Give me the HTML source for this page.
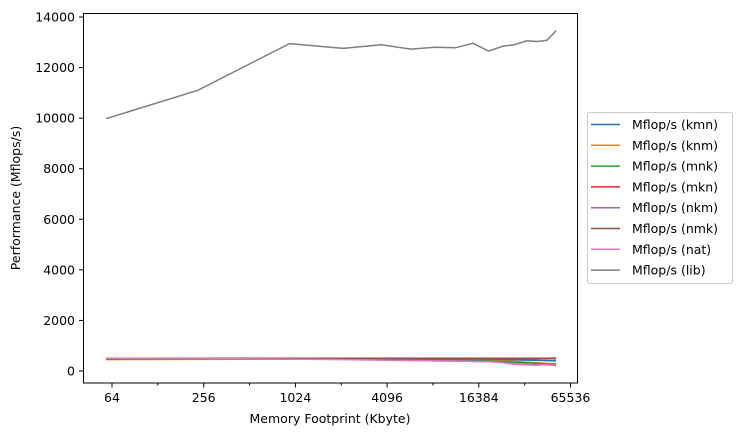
<!DOCTYPE html>
<html><head><meta charset="utf-8"><style>
body{margin:0;background:#fff;font-family:"Liberation Sans","DejaVu Sans",sans-serif}
svg text{font-family:"DejaVu Sans","Liberation Sans",sans-serif;font-size:12.5px;fill:#000}
</style></head><body>
<svg id="chart" width="741" height="436" xmlns="http://www.w3.org/2000/svg">
<rect x="0" y="0" width="741" height="436" fill="#fff"/>
<g id="plot"></g>
<rect x="83.5" y="13.5" width="494" height="369.5" fill="none" stroke="#000" stroke-width="1"/>
<g id="axes"></g>
<text x="330" y="423" text-anchor="middle">Memory Footprint (Kbyte)</text>
<text transform="translate(20,198) rotate(-90)" text-anchor="middle">Performance (Mflops/s)</text>
<g id="legend"></g>
</svg>
<script>
const sizes = [58.6,234,937,2109,3750,5859,8437,11484,15000,18984,23437,28359,33750,39609,45937,52734];
const kmn = [480,480,478,476,474,470,468,465,460,455,445,440,430,420,410,400];
const knm = [450,460,465,462,455,448,440,430,420,410,400,380,350,330,300,280];
const mnk = [470,475,472,468,460,450,440,430,420,400,380,350,330,300,280,260];
const mkn = [500,505,505,505,505,505,505,505,505,505,505,505,505,505,505,510];
const nkm = [500,495,480,460,440,420,400,390,380,370,340,290,260,240,250,230];
const nmk = [490,495,495,493,492,490,490,490,488,488,487,487,486,486,486,485];
const nat = [500,490,470,450,430,410,400,390,380,370,330,260,240,230,260,210];
const lib = [9980,11100,12950,12760,12900,12730,12800,12780,12960,12650,12840,12910,13060,13030,13080,13460];
const seriesNames = ["kmn","knm","mnk","mkn","nkm","nmk","nat","lib"];
const seriesVals = [kmn,knm,mnk,mkn,nkm,nmk,nat,lib];
const colors = ["#1f77b4","#ff7f0e","#2ca02c","#d62728","#9467bd","#8c564b","#e377c2","#7f7f7f"];
const xTicks = [64,256,1024,4096,16384,65536];
const yTicks = [0,2000,4000,6000,8000,10000,12000,14000];
const NS="http://www.w3.org/2000/svg";
function xs(v){return 112+(Math.log2(v)-6)*45.85;}
function ys(v){return 371-v*354/14000;}
const plot=document.getElementById('plot'), axes=document.getElementById('axes'), legend=document.getElementById('legend');
seriesVals.forEach((vals,i)=>{
  const p=document.createElementNS(NS,'polyline');
  p.setAttribute('points',vals.map((v,j)=>xs(sizes[j]).toFixed(1)+','+ys(v).toFixed(1)).join(' '));
  p.setAttribute('fill','none');p.setAttribute('stroke',colors[i]);p.setAttribute('stroke-width','1.5');
  
  
  plot.appendChild(p);
});
xTicks.forEach(t=>{
  const x=xs(t);
  const l=document.createElementNS(NS,'line');
  l.setAttribute('x1',x);l.setAttribute('x2',x);l.setAttribute('y1',383);l.setAttribute('y2',387.5);l.setAttribute('stroke','#000');
  
  
  axes.appendChild(l);
  const tx=document.createElementNS(NS,'text');
  tx.setAttribute('x',x);tx.setAttribute('y',402);tx.setAttribute('text-anchor','middle');tx.textContent=t;
  
  
  axes.appendChild(tx);
});
for(let e=5;e<=16;e++){
  if(e%2===0) continue;
  const x=xs(Math.pow(2,e));
  if(x<84||x>577) continue;
  const l=document.createElementNS(NS,'line');
  l.setAttribute('x1',x);l.setAttribute('x2',x);l.setAttribute('y1',383);l.setAttribute('y2',385.5);l.setAttribute('stroke','#000');
  
  
  axes.appendChild(l);
}
yTicks.forEach(t=>{
  const y=ys(t);
  const l=document.createElementNS(NS,'line');
  l.setAttribute('x1',79);l.setAttribute('x2',83.5);l.setAttribute('y1',y);l.setAttribute('y2',y);l.setAttribute('stroke','#000');
  
  
  axes.appendChild(l);
  const tx=document.createElementNS(NS,'text');
  tx.setAttribute('x',75);tx.setAttribute('y',y+4.5);tx.setAttribute('text-anchor','end');tx.textContent=t;
  
  
  axes.appendChild(tx);
});
const box=document.createElementNS(NS,'rect');
box.setAttribute('x',587.5);box.setAttribute('y',112.5);box.setAttribute('width',145);box.setAttribute('height',171);box.setAttribute('rx',2);
box.setAttribute('fill','#fff');box.setAttribute('stroke','#ccc');


legend.appendChild(box);
seriesNames.forEach((n,i)=>{
  const y=124.5+i*20.8;
  const l=document.createElementNS(NS,'line');
  l.setAttribute('x1',591);l.setAttribute('x2',620);l.setAttribute('y1',y);l.setAttribute('y2',y);l.setAttribute('stroke',colors[i]);l.setAttribute('stroke-width','1.5');
  
  
  legend.appendChild(l);
  const tx=document.createElementNS(NS,'text');
  tx.setAttribute('x',632);tx.setAttribute('y',y+4.5);tx.textContent='Mflop/s ('+n+')';
  
  
  legend.appendChild(tx);
});
</script>
</body></html>
